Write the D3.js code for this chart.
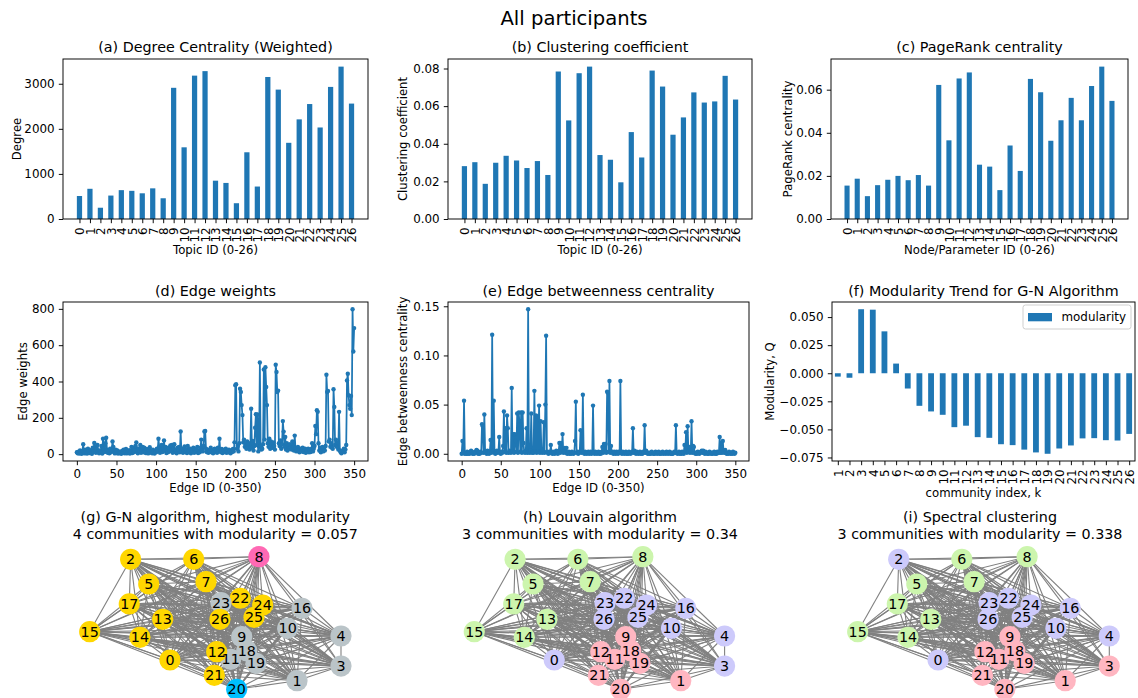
<!DOCTYPE html>
<html><head><meta charset="utf-8">
<script src="https://cdn.jsdelivr.net/npm/d3@7"></script>
<style>body{margin:0;background:#fff} text{font-family:"DejaVu Sans",sans-serif;fill:#000}</style>
</head><body><svg id="c" width="1138" height="698" xmlns="http://www.w3.org/2000/svg"></svg>
<script>
// ---------------- DATA ----------------
const topics = ["0","1","2","3","4","5","6","7","8","9","10","11","12","13","14","15","16","17","18","19","20","21","22","23","24","25","26"];
const degree = [510,670,250,520,640,625,570,680,460,2910,1590,3180,3280,850,800,350,1480,720,3150,2870,1690,2210,2550,2030,2930,3380,2560];
const clustering = [0.0281,0.0302,0.0187,0.0299,0.0336,0.0311,0.0271,0.0308,0.0234,0.0784,0.0524,0.0775,0.0810,0.0340,0.0315,0.0195,0.0462,0.0327,0.0789,0.0704,0.0448,0.0540,0.0673,0.0619,0.0625,0.0761,0.0635];
const pagerank = [0.0155,0.0187,0.0106,0.0157,0.0182,0.0200,0.0180,0.0204,0.0155,0.0622,0.0365,0.0652,0.0680,0.0252,0.0243,0.0134,0.0341,0.0223,0.0650,0.0588,0.0363,0.0458,0.0562,0.0458,0.0617,0.0707,0.0548];
const communityK = ["1","2","3","4","5","6","7","8","9","10","11","12","13","14","15","16","17","18","19","20","21","22","23","24","25","26"];
const modularity = [-0.003,-0.004,0.057,0.0566,0.0373,0.0086,-0.0136,-0.029,-0.034,-0.037,-0.048,-0.0467,-0.0569,-0.0575,-0.0632,-0.064,-0.068,-0.0705,-0.0717,-0.067,-0.0643,-0.058,-0.0578,-0.0596,-0.0599,-0.054];
const edgeWeights = [
10,5,14,3,20,8,2,18,55,12,
4,25,9,3,30,15,6,22,10,2,
35,12,62,40,8,28,50,15,5,20,
10,45,3,85,30,12,60,90,25,8,
15,5,30,10,18,70,40,12,4,25,
8,20,3,15,6,10,2,18,9,25,
5,12,28,4,16,8,22,3,14,40,
6,35,10,20,45,65,12,5,30,18,
50,8,25,40,10,35,15,6,28,12,
4,20,38,9,15,5,25,12,3,18,
10,30,15,85,40,8,22,50,12,30,
75,18,40,6,25,10,35,15,48,20,
50,8,28,55,12,22,5,35,18,40,
10,125,15,30,8,20,42,12,25,6,
45,18,10,30,5,22,14,35,8,25,
12,28,40,6,18,10,35,80,20,15,
45,125,128,30,12,25,8,20,15,35,
10,22,5,18,30,12,25,8,35,15,
85,20,10,28,6,15,22,12,30,8,
18,10,25,15,5,20,12,28,15,65,
380,385,30,45,15,60,360,342,270,215,
65,80,40,55,30,70,45,60,25,40,
250,35,73,20,45,145,220,50,218,15,
40,505,45,25,30,55,466,80,479,370,
270,60,40,85,30,70,50,35,65,45,
25,492,452,342,350,60,45,75,30,55,
182,124,40,95,25,60,20,45,30,55,
35,25,70,40,20,102,30,15,25,40,
20,10,30,15,25,35,12,20,30,8,
25,15,30,10,22,12,28,60,15,30,
45,155,110,242,233,60,20,35,10,25,
40,15,30,20,45,437,342,348,69,80,
40,60,35,30,357,260,50,80,40,65,
25,233,20,10,5,15,20,30,10,25,
50,406,443,324,270,250,320,215,798,565,
694];
const edgeBetweenness = [
0,0.013,0.001,0.054,0,0.001,0,0.002,0,0.001,
0,0.001,0.003,0.002,0,0.001,0,0.002,0.001,0.004,
0.003,0,0.001,0,0.002,0.001,0.030,0.028,0.001,0.040,
0.002,0.001,0,0.003,0.001,0,0.002,0.014,0.001,0.121,
0.003,0.054,0.001,0,0.002,0.003,0.001,0.002,0.017,0.001,
0,0.002,0.001,0.008,0.043,0.002,0.026,0.001,0.039,0.026,
0.001,0.003,0.002,0.001,0.067,0.002,0.020,0.001,0.020,0.013,
0.002,0.041,0.001,0.042,0.030,0.002,0.042,0.001,0.042,0.011,
0.002,0.001,0.003,0.026,0.001,0.147,0.002,0.001,0.003,0.041,
0.001,0.002,0.001,0.064,0.002,0.039,0.001,0.038,0.002,0.049,
0.001,0.033,0.002,0.001,0.003,0.032,0.001,0.050,0.120,0.002,
0.001,0,0.002,0.001,0.009,0.001,0,0.002,0.001,0,
0.002,0.003,0.001,0,0.002,0.011,0.001,0.011,0.002,0.020,
0.001,0.002,0.006,0.001,0.006,0,0.001,0.002,0,0.001,
0,0.002,0.001,0,0.001,0.013,0.053,0.001,0.002,0,
0.001,0.002,0.024,0.001,0.003,0.060,0.001,0,0.002,0.001,
0,0.001,0.002,0,0.001,0.002,0,0.001,0.049,0.001,
0,0.002,0.001,0,0.001,0.002,0,0.001,0,0.002,
0.007,0.001,0.010,0.002,0.010,0.001,0.063,0.062,0.002,0.074,
0.001,0.008,0.002,0.001,0,0.002,0.001,0,0.002,0.001,
0,0.002,0.001,0.074,0.001,0,0.002,0.001,0,0.001,
0.002,0,0.001,0,0.002,0.001,0,0.001,0.002,0.026,
0.001,0.003,0.001,0,0.002,0.001,0,0.001,0.002,0,
0.001,0,0.002,0.001,0.029,0.001,0.003,0.001,0,0.001,
0,0.001,0,0.002,0.001,0,0.001,0,0.002,0.001,
0,0.001,0.002,0,0.001,0,0.001,0.002,0,0.001,
0.001,0,0.002,0.001,0,0.001,0.002,0,0.001,0,
0,0.001,0.002,0.001,0.029,0.001,0,0.001,0.002,0,
0.001,0,0.002,0.001,0,0.009,0.002,0.022,0.001,0.028,
0.002,0.007,0.001,0.002,0.033,0.001,0.008,0.007,0.001,0,
0.001,0,0.002,0.001,0,0.001,0.002,0.003,0.001,0.003,
0.001,0,0.002,0.001,0,0.001,0,0.002,0.001,0,
0.001,0,0.001,0.002,0,0.001,0,0.002,0.001,0.001,
0.017,0.001,0.011,0.001,0.013,0.002,0.001,0.004,0.001,0,
0.001,0,0.002,0.001,0,0.001,0,0.002,0.001,0,
0.001];
// Tick labels
const degreeTicks = [0,1000,2000,3000];
const clusteringTicks = [0,0.02,0.04,0.06,0.08];
const pagerankTicks = [0,0.02,0.04,0.06];
const weightTicks = [0,200,400,600,800];
const betweennessTicks = [0,0.05,0.10,0.15];
const edgeIdTicks = [0,50,100,150,200,250,300,350];
const modularityTicks = [-0.075,-0.05,-0.025,0,0.025,0.05];
// Network: spring-layout coordinates (unitless) and community memberships
const nodeIds = topics;
const nodeX = [-0.361,0.650,-0.674,1.000,1.000,-0.530,-0.172,-0.074,0.347,0.210,0.576,0.122,0.011,-0.419,-0.600,-1.000,0.690,-0.685,0.250,0.324,0.170,-0.008,0.199,0.045,0.377,0.308,0.037];
const nodeY = [-0.558,-0.870,0.961,-0.649,-0.196,0.588,0.961,0.623,1.000,-0.207,-0.080,-0.548,-0.433,0.056,-0.216,-0.131,0.222,0.287,-0.418,-0.608,-1.000,-0.789,0.373,0.306,0.271,0.086,0.056];
const gnCommunity = [0,1,0,1,1,0,0,0,2,1,1,1,0,0,0,0,1,0,1,1,3,0,0,1,0,0,0];
const louvainCommunity = [1,2,0,1,1,0,0,0,0,2,1,2,2,0,0,0,1,0,2,2,2,2,1,1,1,1,1];
const spectralCommunity = [1,2,1,2,1,0,0,0,0,2,1,2,2,0,0,0,1,0,2,2,2,2,1,1,1,1,1];

// ---------------- DRAWING ----------------
const svg = d3.select("#c");
const FS = 11.9, LFS = 11.7, TFS = 14.3, TL = 4.2, LW = 0.95;
const BLUE = "#1f77b4";

svg.append("text").attr("x",574).attr("y",18).attr("text-anchor","middle")
  .attr("dominant-baseline","central").style("font-size","19.6px").text("All participants");

function margins(lo, hi){ const p=(hi-lo)*0.05; return [lo-p, hi+p]; }

function frame(x0,x1,y0,y1){
  svg.append("rect").attr("x",x0).attr("y",y0).attr("width",x1-x0).attr("height",y1-y0)
    .attr("fill","none").attr("stroke","#000").attr("stroke-width",LW);
}
function styleAxis(g){
  g.select(".domain").remove();
  g.selectAll(".tick line").attr("stroke","#000").attr("stroke-width",LW);
  g.selectAll(".tick text").style("font-size",FS+"px").style("font-family","DejaVu Sans").attr("fill","#000");
}
function yAxis(y, x0, ticks, fmt){
  const g = svg.append("g").attr("transform",`translate(${x0},0)`)
    .call(d3.axisLeft(y).tickValues(ticks).tickFormat(fmt).tickSize(TL).tickPadding(4.2));
  styleAxis(g);
}
function labels(o){
  svg.append("text").attr("x",(o.x0+o.x1)/2).attr("y",o.ty).attr("text-anchor","middle")
    .attr("dominant-baseline","central").style("font-size",TFS+"px").text(o.title);
  svg.append("text").attr("x",(o.x0+o.x1)/2).attr("y",o.xly).attr("text-anchor","middle")
    .attr("dominant-baseline","central").style("font-size",LFS+"px").text(o.xlabel);
  svg.append("text").attr("transform",`translate(${o.ylx},${(o.y0+o.y1)/2}) rotate(-90)`)
    .attr("text-anchor","middle").attr("dominant-baseline","central").style("font-size",LFS+"px").text(o.ylabel);
}

function barPanel(o){
  const n = o.cats.length;
  const xDom = o.pandas ? [-0.5, n-0.5] : margins(-0.25, n-1+0.25);
  const x = d3.scaleLinear().domain(xDom).range([o.x0,o.x1]);
  const yDom = o.yDomain || [0, d3.max(o.vals)*1.05];
  const y = d3.scaleLinear().domain(yDom).range([o.y1,o.y0]);
  const bw = x(0.5)-x(0);
  svg.append("g").selectAll("rect").data(o.vals).join("rect")
    .attr("x",(d,i)=>x(i)-bw/2).attr("width",bw)
    .attr("y",d=>y(Math.max(0,d))).attr("height",d=>Math.abs(y(d)-y(0)))
    .attr("fill",o.color||BLUE);
  const gx = svg.append("g").attr("transform",`translate(0,${o.y1})`)
    .call(d3.axisBottom(x).tickValues(d3.range(n)).tickFormat(i=>o.cats[i]).tickSize(TL));
  styleAxis(gx);
  gx.selectAll(".tick text").attr("y",0).attr("x",-(TL+4.2)).attr("dy","0.36em")
    .attr("transform","rotate(-90)").style("text-anchor","end");
  yAxis(y, o.x0, o.ticks, o.fmt);
  frame(o.x0,o.x1,o.y0,o.y1);
  labels(o);
  return {x,y};
}

function linePanel(o){
  const n = o.vals.length;
  const x = d3.scaleLinear().domain(margins(0,n-1)).range([o.x0,o.x1]);
  const y = d3.scaleLinear().domain(margins(d3.min(o.vals), d3.max(o.vals))).range([o.y1,o.y0]);
  const line = d3.line().x((d,i)=>x(i)).y(d=>y(d));
  svg.append("path").datum(o.vals).attr("d",line).attr("fill","none")
    .attr("stroke",BLUE).attr("stroke-width",1.75).attr("stroke-linejoin","round");
  svg.append("g").selectAll("circle").data(o.vals).join("circle")
    .attr("cx",(d,i)=>x(i)).attr("cy",d=>y(d)).attr("r",2.2).attr("fill",BLUE);
  const gx = svg.append("g").attr("transform",`translate(0,${o.y1})`)
    .call(d3.axisBottom(x).tickValues(o.xticks).tickFormat(d3.format("d")).tickSize(TL).tickPadding(4.2));
  styleAxis(gx);
  yAxis(y, o.x0, o.ticks, o.fmt);
  frame(o.x0,o.x1,o.y0,o.y1);
  labels(o);
}

// Row 1
barPanel({x0:63,x1:368,y0:59,y1:219,cats:topics,vals:degree,ticks:degreeTicks,fmt:d3.format("d"),
  title:"(a) Degree Centrality (Weighted)",xlabel:"Topic ID (0-26)",ylabel:"Degree",ty:47,xly:250,ylx:17});
barPanel({x0:448,x1:752,y0:59,y1:219,cats:topics,vals:clustering,ticks:clusteringTicks,fmt:d3.format(".2f"),
  title:"(b) Clustering coefficient",xlabel:"Topic ID (0-26)",ylabel:"Clustering coefficient",ty:47,xly:250,ylx:403});
barPanel({x0:831,x1:1128,y0:59,y1:219,cats:topics,vals:pagerank,ticks:pagerankTicks,fmt:d3.format(".2f"),
  title:"(c) PageRank centrality",xlabel:"Node/Parameter ID (0-26)",ylabel:"PageRank centrality",ty:47,xly:250,ylx:788});

// Row 2
linePanel({x0:63,x1:368,y0:302,y1:461,vals:edgeWeights,xticks:edgeIdTicks,ticks:weightTicks,fmt:d3.format("d"),
  title:"(d) Edge weights",xlabel:"Edge ID (0-350)",ylabel:"Edge weights",ty:291,xly:488,ylx:23});
linePanel({x0:448,x1:749,y0:302,y1:461,vals:edgeBetweenness,xticks:edgeIdTicks,ticks:betweennessTicks,fmt:d3.format(".2f"),
  title:"(e) Edge betweenness centrality",xlabel:"Edge ID (0-350)",ylabel:"Edge betweenness centrality",ty:291,xly:488,ylx:403});
const fPanel = {x0:832,x1:1135,y0:302,y1:461,cats:communityK,vals:modularity,pandas:true,color:"#1f77b4",
  yDomain:margins(d3.min(modularity),d3.max(modularity)),ticks:modularityTicks,fmt:d3.format(".3f"),
  title:"(f) Modularity Trend for G-N Algorithm",xlabel:"community index, k",ylabel:"Modularity, Q",ty:291,xly:493,ylx:770};
barPanel(fPanel);
// legend
const lg = svg.append("g");
lg.append("rect").attr("x",1023).attr("y",305).attr("width",108).attr("height",24).attr("rx",2.5)
  .attr("fill","#fff").attr("fill-opacity",0.8).attr("stroke","#cccccc").attr("stroke-width",LW);
lg.append("rect").attr("x",1028).attr("y",313).attr("width",24).attr("height",8.3).attr("fill","#1f77b4");
lg.append("text").attr("x",1061.5).attr("y",317).attr("dominant-baseline","central").style("font-size",FS+"px").text("modularity");

// Row 3: networks
const edges = [];
nodeIds.forEach((a,i)=>nodeIds.forEach((b,j)=>{ if(j>i) edges.push([i,j]); }));
function network(o){
  const x = d3.scaleLinear().domain([-1,1]).range(o.xr);
  const y = d3.scaleLinear().domain([-1,1]).range([689.3,556.7]);
  const g = svg.append("g");
  g.selectAll("line").data(edges).join("line")
    .attr("x1",d=>x(nodeX[d[0]])).attr("y1",d=>y(nodeY[d[0]]))
    .attr("x2",d=>x(nodeX[d[1]])).attr("y2",d=>y(nodeY[d[1]]))
    .attr("stroke","#808080").attr("stroke-width",1.1);
  g.selectAll("circle").data(nodeIds).join("circle")
    .attr("cx",(d,i)=>x(nodeX[i])).attr("cy",(d,i)=>y(nodeY[i])).attr("r",10.6)
    .attr("fill",(d,i)=>o.colors[o.comm[i]]);
  g.selectAll("text").data(nodeIds).join("text")
    .attr("x",(d,i)=>x(nodeX[i])).attr("y",(d,i)=>y(nodeY[i])).attr("text-anchor","middle")
    .attr("dominant-baseline","central").style("font-size","14.3px").text(d=>d);
  o.title.forEach((t,k)=>svg.append("text").attr("x",o.tx).attr("y",517+k*16.5).attr("text-anchor","middle")
    .attr("dominant-baseline","central").style("font-size",TFS+"px").text(t));
}
network({xr:[89.7,341],tx:215.3,comm:gnCommunity,colors:["#ffd700","#bac4c8","#ff69b4","#00bfff"],
  title:["(g) G-N algorithm, highest modularity","4 communities with modularity = 0.057"]});
network({xr:[474.3,724.6],tx:600,comm:louvainCommunity,colors:["#ccf5ad","#cdcafb","#ffb6c1"],
  title:["(h) Louvain algorithm","3 communities with modularity = 0.34"]});
network({xr:[857.7,1109.3],tx:980,comm:spectralCommunity,colors:["#ccf5ad","#cdcafb","#ffb6c1"],
  title:["(i) Spectral clustering","3 communities with modularity = 0.338"]});
</script></body></html>
